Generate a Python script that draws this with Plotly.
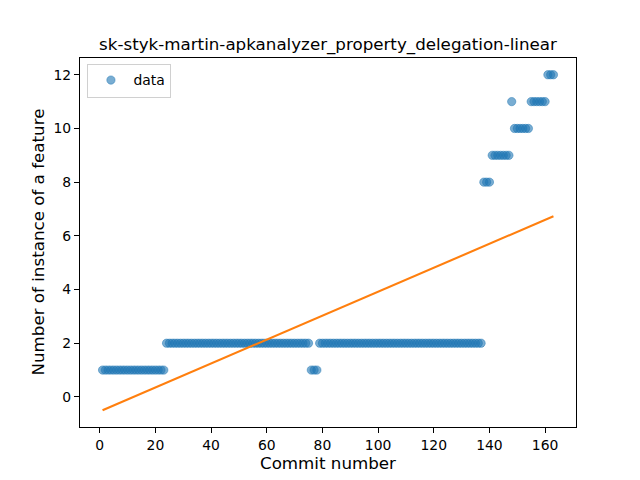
import numpy as np
import plotly.graph_objects as go

# segments: (first commit, last commit, value)
seg_start = [1, 24, 76, 79, 138, 141, 148, 149, 155, 161]
seg_end = [23, 75, 78, 137, 140, 147, 148, 154, 160, 163]
seg_value = [1, 2, 1, 2, 8, 9, 11, 10, 11, 12]

title = "sk-styk-martin-apkanalyzer_property_delegation-linear"
x_label = "Commit number"
y_label = "Number of instance of a feature"
x_ticks = [0, 20, 40, 60, 80, 100, 120, 140, 160]
y_ticks = [0, 2, 4, 6, 8, 10, 12]

xs, ys = [], []
for s, e, v in zip(seg_start, seg_end, seg_value):
    for c in range(s, e + 1):
        xs.append(c)
        ys.append(v)
xs = np.array(xs, dtype=float)
ys = np.array(ys, dtype=float)

slope, intercept = np.polyfit(xs, ys, 1)
fit = slope * xs + intercept

xmin, xmax = xs.min(), xs.max()
xm = 0.05 * (xmax - xmin)
ymin = min(ys.min(), fit.min())
ymax = max(ys.max(), fit.max())
ym = 0.05 * (ymax - ymin)

font = "DejaVu Sans"
fig = go.Figure()
fig.add_trace(go.Scatter(
    x=xs, y=ys, mode="markers", name="data",
    marker=dict(color="rgba(31,119,180,0.6)", size=8.3,
                line=dict(width=0.8, color="rgba(31,119,180,0.6)")),
))
fig.add_trace(go.Scatter(
    x=xs, y=fit, mode="lines", showlegend=False,
    line=dict(color="#ff7f0e", width=2.1),
))

axis_common = dict(
    showline=True, mirror=True, linecolor="black", linewidth=1.1,
    ticks="outside", ticklen=5, tickwidth=1.1, tickcolor="black",
    showgrid=False, zeroline=False,
    tickfont=dict(family=font, size=13.9, color="black"),
)
fig.update_xaxes(range=[xmin - xm, xmax + xm], tickvals=x_ticks, **axis_common)
fig.update_yaxes(range=[ymin - ym, ymax + ym], tickvals=y_ticks, **axis_common)

fig.update_layout(
    width=640, height=480,
    margin=dict(l=80, r=64, t=58, b=53),
    plot_bgcolor="white", paper_bgcolor="white",
    font=dict(family=font, color="black"),
    title=dict(text=title, x=0.5, xref="paper", xanchor="center",
               y=1 - 44 / 480, yanchor="middle",
               font=dict(family=font, size=16.7, color="black")),
    legend=dict(x=0.015, y=0.985, xanchor="left", yanchor="top",
                itemwidth=35,
                bgcolor="rgba(255,255,255,0.8)", bordercolor="#d0d0d0",
                borderwidth=1, font=dict(family=font, size=13.9, color="black")),
    annotations=[
        dict(text=x_label, xref="paper", yref="paper", x=0.5, y=0,
             yshift=-24, xanchor="center", yanchor="top", showarrow=False,
             font=dict(family=font, size=16.7, color="black")),
        dict(text=y_label, xref="paper", yref="paper", x=0, y=0.5,
             xshift=-43, xanchor="center", yanchor="middle", showarrow=False,
             textangle=-90,
             font=dict(family=font, size=16.7, color="black")),
    ],
)

fig.write_html("out.html", config={"displayModeBar": False},
               post_script="document.body.style.margin='0';document.body.style.overflow='hidden';")
